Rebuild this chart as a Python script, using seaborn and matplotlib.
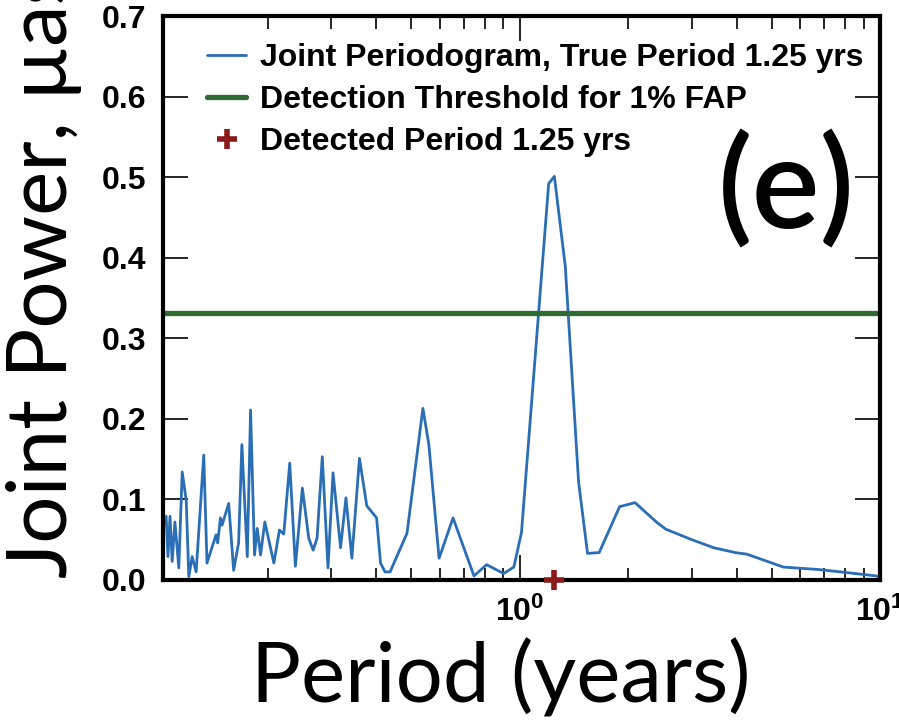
import numpy as np
import pandas as pd
import matplotlib
matplotlib.use('Agg')
import matplotlib.pyplot as plt
import seaborn as sns
from matplotlib.ticker import LogLocator, NullFormatter

# periodogram
period = [0.101, 0.1047, 0.1059, 0.1073, 0.1088, 0.1107, 0.1135, 0.1160, 0.1190, 0.1210,
          0.1236, 0.1268, 0.1331, 0.1359, 0.1404, 0.1440, 0.1455, 0.1481, 0.1496, 0.1561,
          0.1611, 0.1663, 0.1698, 0.1758, 0.1795, 0.1841, 0.1873, 0.1913, 0.1966, 0.2083,
          0.2159, 0.2219, 0.2305, 0.2390, 0.2499, 0.2602, 0.2677, 0.2745, 0.2838, 0.2943,
          0.3039, 0.3189, 0.3301, 0.3428, 0.3598, 0.3771, 0.4015, 0.4117, 0.4237, 0.4375,
          0.4875, 0.5395, 0.5605, 0.5983, 0.6542, 0.7477, 0.8106, 0.9034, 0.9645, 1.0128,
          1.2048, 1.2494, 1.3399, 1.4581, 1.5442, 1.6635, 1.8953, 2.0912, 2.4099, 2.547,
          3.006, 3.457, 3.968, 4.273, 5.395, 6.742, 8.157, 9.768, 10.0]
power = [0.055, 0.079, 0.029, 0.079, 0.023, 0.072, 0.015, 0.134, 0.099, 0.004,
         0.029, 0.010, 0.155, 0.021, 0.041, 0.056, 0.046, 0.077, 0.068, 0.095,
         0.012, 0.046, 0.168, 0.029, 0.211, 0.031, 0.064, 0.031, 0.072, 0.021,
         0.062, 0.057, 0.145, 0.017, 0.114, 0.052, 0.037, 0.052, 0.153, 0.015,
         0.133, 0.040, 0.102, 0.027, 0.151, 0.092, 0.077, 0.021, 0.010, 0.010,
         0.058, 0.213, 0.168, 0.027, 0.077, 0.005, 0.019, 0.008, 0.016, 0.059,
         0.492, 0.501, 0.389, 0.122, 0.033, 0.034, 0.091, 0.096, 0.071, 0.063,
         0.050, 0.040, 0.034, 0.032, 0.016, 0.013, 0.009, 0.005, 0.004]
threshold = 0.331
detected_period = 1.25

labels = ['Joint Periodogram, True Period 1.25 yrs',
          'Detection Threshold for 1% FAP',
          'Detected Period 1.25 yrs']
yticks = [0.0, 0.1, 0.2, 0.3, 0.4, 0.5, 0.6, 0.7]
xticks = [1, 10]
xticklabels = [r'$\mathbf{10^{0}}$', r'$\mathbf{10^{1}}$']

sns.set_style('ticks')
plt.rcParams['font.family'] = ['Liberation Sans', 'DejaVu Sans']
plt.rcParams['mathtext.fontset'] = 'custom'
plt.rcParams['mathtext.rm'] = 'Liberation Sans:bold'
plt.rcParams['mathtext.bf'] = 'Liberation Sans:bold'
for k in ['text.color', 'axes.labelcolor', 'xtick.color', 'ytick.color', 'axes.edgecolor']:
    plt.rcParams[k] = 'black'

df = pd.DataFrame({'Period': period, 'Power': power})

fig = plt.figure(figsize=(8.99, 7.21), dpi=100)
ax = fig.add_axes([0.1813, 0.1956, 0.7976, 0.7822])

sns.lineplot(x='Period', y='Power', data=df, ax=ax, color='#2a6eb5', linewidth=2.0,
             estimator=None, sort=False, label=labels[0])
ax.axhline(threshold, color='#2e6b31', linewidth=3.8, label=labels[1])
ax.plot([detected_period], [0], '+', color='#8b1a1a', markersize=15, markeredgewidth=4,
        clip_on=False, zorder=5, label=labels[2])

ax.set_xscale('log')
ax.set_xlim(0.1026, 10)
ax.set_ylim(0, 0.7)
ax.set_xticks(xticks, labels=xticklabels)
ax.xaxis.set_minor_locator(LogLocator(base=10, subs=np.arange(2, 10)))
ax.xaxis.set_minor_formatter(NullFormatter())
ax.set_yticks(yticks, labels=[f'{v:.1f}' for v in yticks])
ax.set_xlabel('')
ax.set_ylabel('')

for s in ax.spines.values():
    s.set_linewidth(3)
    s.set_color('black')
ax.tick_params(which='both', direction='in', top=True, right=True, width=1.2)
ax.tick_params(which='major', length=18, pad=12, labelsize=23)
ax.tick_params(which='minor', length=9)
for lab in ax.get_yticklabels():
    lab.set_fontweight('bold')

leg = ax.legend(loc='upper left', bbox_to_anchor=(0.062, 0.952), frameon=False,
                prop={'weight': 'bold', 'size': 23}, handlelength=1.2,
                handletextpad=0.45, labelspacing=0.38, borderpad=0, borderaxespad=0)

ax.text(0.870, 0.69, '(e)', transform=ax.transAxes, ha='center', va='center',
        fontsize=92, fontweight='semibold', family=['Lato', 'DejaVu Sans'])

fig.text(0.557, 0.005, 'Period (years)', ha='center', va='bottom',
         fontsize=60, family=['Lato', 'DejaVu Sans'])
fig.text(0.045, 0.198, 'Joint Power, µas²', ha='center', va='bottom', rotation=90,
         fontsize=60, family=['Lato', 'DejaVu Sans'])

fig.savefig('out.png', dpi=100)
